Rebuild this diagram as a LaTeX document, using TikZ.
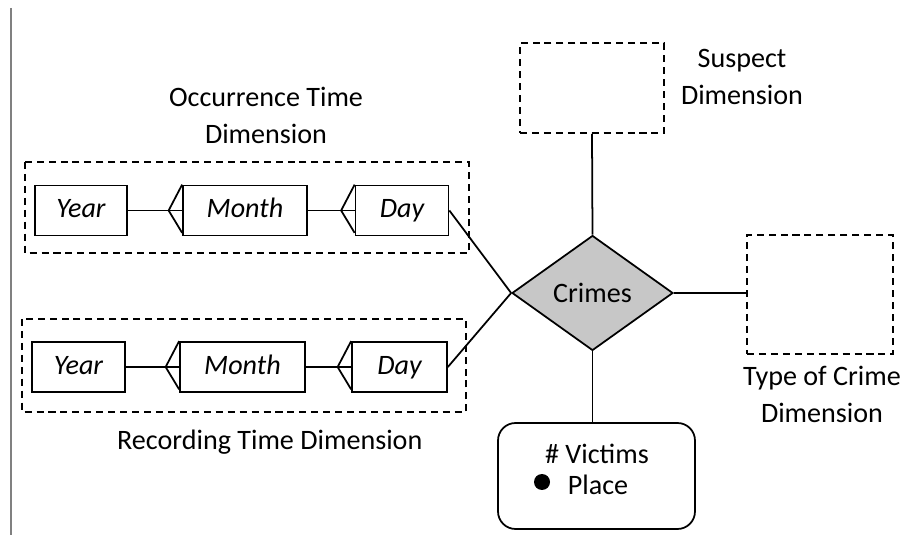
\documentclass[tikz,border=0pt]{standalone}
\usepackage{fontspec}
\setmainfont{Carlito}
\usetikzlibrary{shapes.geometric}

\begin{document}
\begin{tikzpicture}[x=0.02cm, y=-0.02cm,
        every node/.style={font=\fontsize{16}{21}\selectfont},
        level/.style={draw, line width=1pt, inner sep=0pt, minimum height=1cm,
                      text height=1.9ex, text depth=0.15ex,
                      font=\fontsize{16}{21}\selectfont\itshape},
        frame/.style={draw, line width=1pt, dash pattern=on 4pt off 2.8pt},
        link/.style={line width=1pt}
    ]
    \useasboundingbox (0,0) rectangle (906,543);

    % --- 左の縦線 ---
    \draw[gray, line width=0.9pt] (11,8) -- (11,535);

    % --- 発生時刻の次元 ---
    \draw[frame] (25,162) rectangle (469,253);
    \node[level, minimum width=1.84cm] (year1) at (81,210.5) {Year};
    \node[level, minimum width=2.48cm] (month1) at (245,210.5) {Month};
    \node[level, minimum width=1.86cm] (day1) at (402,210.5) {Day};
    \node[align=center] (occtitle) at (266,115) {Occurrence Time\\Dimension};

    % --- 記録時刻の次元 ---
    \draw[frame] (22,319) rectangle (466,412);
    \node[level, minimum width=1.86cm] (year2) at (78.5,367) {Year};
    \node[level, minimum width=2.5cm] (month2) at (242.5,367) {Month};
    \node[level, minimum width=1.9cm] (day2) at (399.5,367) {Day};
    \node[anchor=west] (rectitle) at (111,442) {Recording Time Dimension};

    % --- 鳥の足 (1:N) ---
    \foreach \a/\b in {year1/month1, month1/day1, year2/month2, month2/day2} {
        \coordinate (foot) at ([xshift=-0.27cm]\b.west);
        \draw[link] (\a.east) -- (\b.west);
        \draw[link] (foot) -- (\b.north west);
        \draw[link] (foot) -- ([yshift=2pt]\b.south west);
    }

    % --- 事実と他の次元 ---
    \node[diamond, draw, line width=1pt, fill=black!22, inner sep=0pt,
          minimum width=3.22cm, minimum height=2.3cm] (crimes) at (592.5,293) {Crimes};
    \node[frame, minimum width=2.88cm, minimum height=1.8cm] (suspect) at (592,88) {};
    \node[align=center] (sustitle) at (742,77) {Suspect\\Dimension};
    \node[frame, minimum width=2.92cm, minimum height=2.38cm] (crimetype) at (820,294.5) {};
    \node[align=center] (typetitle) at (822,394) {Type of Crime\\Dimension};
    \node[draw, line width=1pt, rounded corners=0.35cm,
          minimum width=3.94cm, minimum height=2.12cm] (measures) at (596.5,476) {};
    \node (victims) at (597,454) {\# Victims};
    \node (place) at (598,485) {Place};
    \fill (542,482) circle (0.16cm);

    % --- 結線 ---
    \draw[link] (day1.east) -- (crimes.west);
    \draw[link] (day2.east) -- (crimes.west);
    \draw[link] (suspect.south) -- (crimes.north);
    \draw[link] (crimes.east) -- (crimes.east -| crimetype.west);
    \draw[link] (crimes.south) -- (crimes.south |- measures.north);

\end{tikzpicture}
\end{document}
